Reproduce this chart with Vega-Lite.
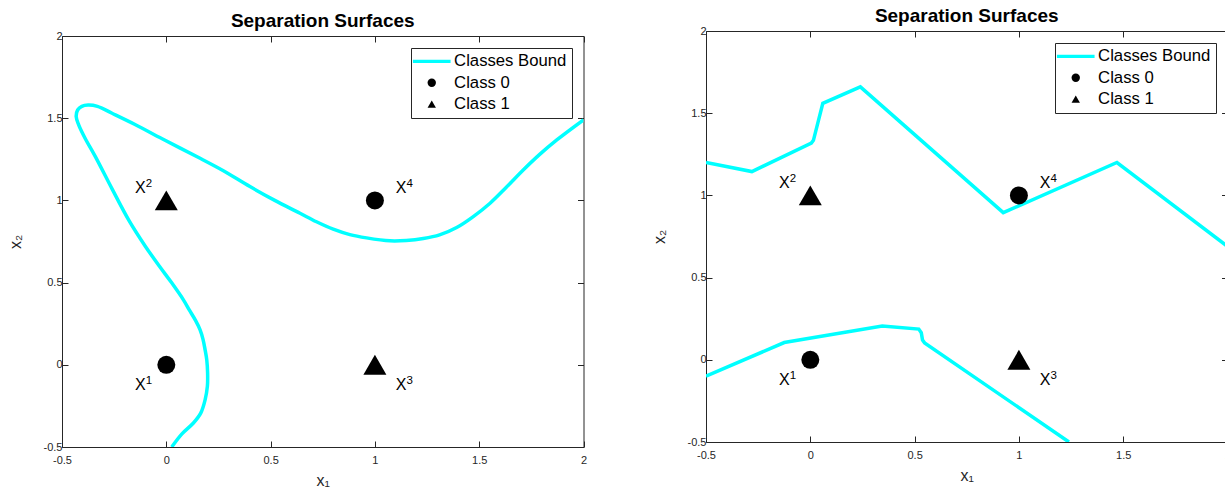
{
  "$schema": "https://vega.github.io/schema/vega-lite/v6.json",
  "padding": {"left": 7, "top": 6, "right": 0, "bottom": 0},
  "background": "white",
  "datasets": {
    "curveA": [
      {"i":1,"x":0.026,"y":-0.5},{"i":2,"x":0.075,"y":-0.42},{"i":3,"x":0.13,"y":-0.354},{"i":4,"x":0.165,"y":-0.294},
      {"i":5,"x":0.186,"y":-0.213},{"i":6,"x":0.197,"y":-0.13},{"i":7,"x":0.198,"y":-0.05},{"i":8,"x":0.194,"y":0.03},
      {"i":9,"x":0.186,"y":0.091},{"i":10,"x":0.176,"y":0.155},{"i":11,"x":0.162,"y":0.213},{"i":12,"x":0.14,"y":0.27},
      {"i":13,"x":0.11,"y":0.334},{"i":14,"x":0.082,"y":0.395},
      {"i":15,"x":0.025,"y":0.5},{"i":16,"x":-0.032,"y":0.598},{"i":17,"x":-0.1,"y":0.72},{"i":18,"x":-0.18,"y":0.88},
      {"i":19,"x":-0.26,"y":1.07},{"i":20,"x":-0.34,"y":1.266},{"i":21,"x":-0.39,"y":1.38},{"i":22,"x":-0.42,"y":1.46},
      {"i":23,"x":-0.432,"y":1.51},{"i":24,"x":-0.425,"y":1.55},{"i":25,"x":-0.405,"y":1.572},{"i":26,"x":-0.375,"y":1.58},
      {"i":27,"x":-0.33,"y":1.572},{"i":28,"x":-0.26,"y":1.53},{"i":29,"x":-0.15,"y":1.462},{"i":30,"x":-0.02,"y":1.375},
      {"i":31,"x":0.162,"y":1.256},{"i":32,"x":0.267,"y":1.185},{"i":33,"x":0.401,"y":1.084},{"i":34,"x":0.52,"y":1.0},
      {"i":35,"x":0.641,"y":0.922},{"i":36,"x":0.72,"y":0.87},{"i":37,"x":0.8,"y":0.825},{"i":38,"x":0.88,"y":0.792},
      {"i":39,"x":0.96,"y":0.772},{"i":40,"x":1.072,"y":0.754},
      {"i":41,"x":1.15,"y":0.756},{"i":42,"x":1.232,"y":0.768},{"i":43,"x":1.31,"y":0.79},{"i":44,"x":1.392,"y":0.835},
      {"i":45,"x":1.47,"y":0.9},{"i":46,"x":1.552,"y":0.983},{"i":47,"x":1.63,"y":1.08},{"i":48,"x":1.711,"y":1.185},
      {"i":49,"x":1.79,"y":1.28},{"i":50,"x":1.872,"y":1.368},{"i":51,"x":2.0,"y":1.49}
    ],
    "curveB": [
      {"part":"upper","i":1,"x":-0.5,"y":1.2},{"part":"upper","i":2,"x":-0.28,"y":1.145},{"part":"upper","i":3,"x":0.005,"y":1.318},
      {"part":"upper","i":4,"x":0.015,"y":1.335},{"part":"upper","i":5,"x":0.06,"y":1.56},{"part":"upper","i":6,"x":0.24,"y":1.66},
      {"part":"upper","i":7,"x":0.925,"y":0.895},{"part":"upper","i":8,"x":1.47,"y":1.2},{"part":"upper","i":9,"x":2.0,"y":0.69},
      {"part":"lower","i":1,"x":-0.5,"y":-0.1},{"part":"lower","i":2,"x":-0.125,"y":0.105},{"part":"lower","i":3,"x":0.345,"y":0.205},
      {"part":"lower","i":4,"x":0.52,"y":0.187},{"part":"lower","i":5,"x":0.532,"y":0.165},{"part":"lower","i":6,"x":0.538,"y":0.12},
      {"part":"lower","i":7,"x":0.548,"y":0.103},{"part":"lower","i":8,"x":1.24,"y":-0.5}
    ],
    "pts": [
      {"x":0,"y":0,"series":"Class 0"},{"x":0,"y":1,"series":"Class 1"},
      {"x":1,"y":0,"series":"Class 1"},{"x":1,"y":1,"series":"Class 0"}
    ],
    "labs": [
      {"x":-0.15,"y":-0.155,"base":"X","sup":"1"},{"x":-0.15,"y":1.045,"base":"X","sup":"2"},
      {"x":1.1,"y":-0.155,"base":"X","sup":"3"},{"x":1.1,"y":1.045,"base":"X","sup":"4"}
    ]
  },
  "columns": 2,
  "align": "none",
  "spacing": 64,
  "concat": [
    {
      "spacing": 0,
      "resolve": {"scale": {"x": "independent", "y": "independent", "color": "independent", "shape": "independent", "size": "independent"}, "legend": {"color": "independent", "shape": "independent"}},
      "vconcat": [
        {"width": 1, "height": 5.4, "data": {"values": [{"a": 1}]}, "mark": {"type": "point", "opacity": 0, "size": 0}, "encoding": {}},
        {
          "width": 521.5, "height": 411,
          "title": {"text": "Separation Surfaces"},
          "layer": [
            {
              "data": {"name": "curveA"},
              "mark": {"type": "line", "color": "#00FFFF", "strokeWidth": 3.5, "interpolate": "catmull-rom", "clip": true},
              "encoding": {
                "x": {"field": "x", "type": "quantitative", "scale": {"domain": [-0.5, 2], "nice": false, "zero": false},
                      "axis": {"orient": "bottom", "title": "x₁", "values": [-0.5, 0, 0.5, 1, 1.5, 2]}},
                "y": {"field": "y", "type": "quantitative", "scale": {"domain": [-0.5, 2], "nice": false, "zero": false},
                      "axis": {"orient": "left", "title": "x₂", "values": [-0.5, 0, 0.5, 1, 1.5, 2]}},
                "order": {"field": "i", "type": "quantitative"}
              }
            },
            {
              "data": {"name": "pts"},
              "mark": {"type": "point", "filled": true, "opacity": 1, "strokeWidth": 0},
              "encoding": {
                "x": {"field": "x", "type": "quantitative", "axis": {"orient": "top", "labels": false, "title": null, "values": [-0.5, 0, 0.5, 1, 1.5, 2]}},
                "y": {"field": "y", "type": "quantitative", "axis": {"orient": "right", "labels": false, "title": null, "values": [-0.5, 0, 0.5, 1, 1.5, 2]}},
                "shape": {"field": "series", "type": "nominal", "scale": {"domain": ["Classes Bound", "Class 0", "Class 1"], "range": ["M-4.5,-0.4L4.5,-0.4L4.5,0.4L-4.5,0.4Z", "circle", "triangle-up"]}, "legend": {"title": null}},
                "color": {"field": "series", "type": "nominal", "scale": {"domain": ["Classes Bound", "Class 0", "Class 1"], "range": ["#00FFFF", "#000000", "#000000"]}, "legend": {"title": null}},
                "size": {"field": "series", "type": "nominal", "scale": {"domain": ["Class 0", "Class 1"], "range": [324, 529]}, "legend": null}
              }
            },
            {
              "data": {"name": "labs"},
              "mark": {"type": "text", "align": "left", "baseline": "alphabetic", "fontSize": 16, "font": "Liberation Sans", "color": "#000000"},
              "encoding": {
                "x": {"field": "x", "type": "quantitative", "axis": null},
                "y": {"field": "y", "type": "quantitative", "axis": null},
                "text": {"field": "base"}
              }
            },
            {
              "data": {"name": "labs"},
              "mark": {"type": "text", "align": "left", "baseline": "alphabetic", "fontSize": 11.5, "dx": 10.7, "dy": -6, "font": "Liberation Sans", "color": "#000000"},
              "encoding": {
                "x": {"field": "x", "type": "quantitative", "axis": null},
                "y": {"field": "y", "type": "quantitative", "axis": null},
                "text": {"field": "sup"}
              }
            }
          ]
        }
      ]
    },
    {
      "spacing": 0,
      "resolve": {"scale": {"x": "independent", "y": "independent", "color": "independent", "shape": "independent", "size": "independent"}, "legend": {"color": "independent", "shape": "independent"}},
      "vconcat": [
        {"width": 1, "height": 1, "data": {"values": [{"a": 1}]}, "mark": {"type": "point", "opacity": 0, "size": 0}, "encoding": {}},
        {
          "width": 521.5, "height": 411,
          "title": {"text": "Separation Surfaces"},
          "layer": [
            {
              "data": {"name": "curveB"},
              "mark": {"type": "line", "color": "#00FFFF", "strokeWidth": 3.5, "clip": true},
              "encoding": {
                "x": {"field": "x", "type": "quantitative", "scale": {"domain": [-0.5, 2], "nice": false, "zero": false},
                      "axis": {"orient": "bottom", "title": "x₁", "values": [-0.5, 0, 0.5, 1, 1.5, 2]}},
                "y": {"field": "y", "type": "quantitative", "scale": {"domain": [-0.5, 2], "nice": false, "zero": false},
                      "axis": {"orient": "left", "title": "x₂", "values": [-0.5, 0, 0.5, 1, 1.5, 2]}},
                "detail": {"field": "part", "type": "nominal"},
                "order": {"field": "i", "type": "quantitative"}
              }
            },
            {
              "data": {"name": "pts"},
              "mark": {"type": "point", "filled": true, "opacity": 1, "strokeWidth": 0},
              "encoding": {
                "x": {"field": "x", "type": "quantitative", "axis": {"orient": "top", "labels": false, "title": null, "values": [-0.5, 0, 0.5, 1, 1.5, 2]}},
                "y": {"field": "y", "type": "quantitative", "axis": {"orient": "right", "labels": false, "title": null, "values": [-0.5, 0, 0.5, 1, 1.5, 2]}},
                "shape": {"field": "series", "type": "nominal", "scale": {"domain": ["Classes Bound", "Class 0", "Class 1"], "range": ["M-4.5,-0.4L4.5,-0.4L4.5,0.4L-4.5,0.4Z", "circle", "triangle-up"]}, "legend": {"title": null}},
                "color": {"field": "series", "type": "nominal", "scale": {"domain": ["Classes Bound", "Class 0", "Class 1"], "range": ["#00FFFF", "#000000", "#000000"]}, "legend": {"title": null}},
                "size": {"field": "series", "type": "nominal", "scale": {"domain": ["Class 0", "Class 1"], "range": [324, 529]}, "legend": null}
              }
            },
            {
              "data": {"name": "labs"},
              "mark": {"type": "text", "align": "left", "baseline": "alphabetic", "fontSize": 16, "font": "Liberation Sans", "color": "#000000"},
              "encoding": {
                "x": {"field": "x", "type": "quantitative", "axis": null},
                "y": {"field": "y", "type": "quantitative", "axis": null},
                "text": {"field": "base"}
              }
            },
            {
              "data": {"name": "labs"},
              "mark": {"type": "text", "align": "left", "baseline": "alphabetic", "fontSize": 11.5, "dx": 10.7, "dy": -6, "font": "Liberation Sans", "color": "#000000"},
              "encoding": {
                "x": {"field": "x", "type": "quantitative", "axis": null},
                "y": {"field": "y", "type": "quantitative", "axis": null},
                "text": {"field": "sup"}
              }
            }
          ]
        }
      ]
    }
  ],
  "resolve": {"scale": {"x": "independent", "y": "independent", "color": "independent", "shape": "independent", "size": "independent"}, "legend": {"color": "independent", "shape": "independent"}},
  "config": {
    "view": {"stroke": null},
    "font": "Liberation Sans",
    "title": {"fontSize": 19, "font": "Liberation Sans", "fontWeight": "bold", "color": "#000000", "offset": -1, "anchor": "middle", "frame": "group", "baseline": "alphabetic"},
    "axis": {
      "domainColor": "#262626", "domainWidth": 1, "tickColor": "#262626", "tickSize": -6, "tickWidth": 1,
      "labelColor": "#262626", "labelFont": "Liberation Sans", "labelFontSize": 11,
      "titleFont": "Liberation Sans", "titleFontSize": 16, "titleFontWeight": "normal", "titleColor": "#262626",
      "grid": false, "labelFlush": false, "labelOverlap": false,
      "labelExpr": "replace(format(datum.value, '~g'), '\u2212', '-')"
    },
    "axisX": {"titlePadding": 7, "labelPadding": 13},
    "axisY": {"titlePadding": 20, "labelPadding": 6},
    "legend": {
      "orient": "top-right", "offset": 12, "strokeColor": "#262626", "fillColor": "white", "padding": 5,
      "labelFont": "Liberation Sans", "labelFontSize": 16.7, "labelColor": "#000000", "symbolSize": 70,
      "symbolStrokeWidth": 0, "rowPadding": 3.4, "labelOffset": 14, "symbolOffset": 7.4, "cornerRadius": 0
    }
  }
}
